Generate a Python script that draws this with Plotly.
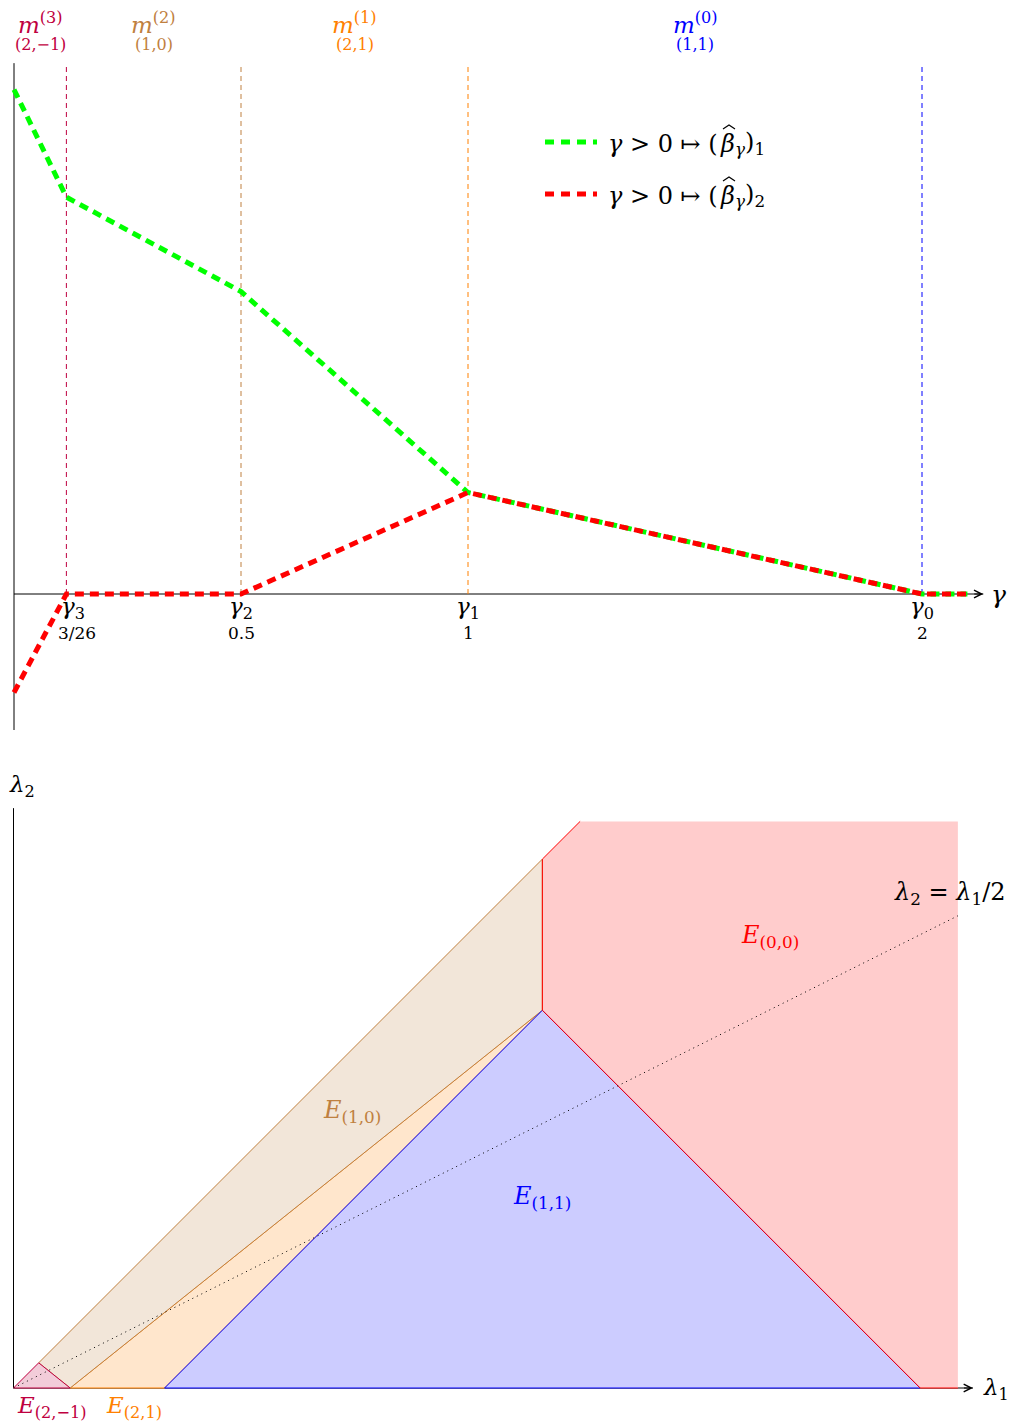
import plotly.graph_objects as go

# ---------------- data: top panel (regularisation path) ----------------
gamma_breaks = [0.0, 3/26, 0.5, 1.0, 2.0, 2.1]
beta1 = [4.97, 3.91, 2.98, 1.0, 0.0, 0.0]
beta2 = [-0.97, 0.0, 0.0, 1.0, 0.0, 0.0]
knot_gammas = [3/26, 0.5, 1.0, 2.0]
knot_names = ["3", "2", "1", "0"]
knot_values = ["3/26", "0.5", "1", "2"]
knot_colors = ["#BF0040", "#BF8040", "#FF8000", "#0000FF"]
model_names = ["(3)", "(2)", "(1)", "(0)"]
model_supports = ["(2,−1)", "(1,0)", "(2,1)", "(1,1)"]
legend_prefix = "<i>γ</i> > 0 ↦ ("
legend_core = "<i>β</i>"
legend_suffixes = ["<sub><i>γ</i></sub>)<sub>1</sub>", "<sub><i>γ</i></sub>)<sub>2</sub>"]

# ---------------- data: bottom panel (regions) ----------------
E21m_x = [0, 2/3, 1.5]
E21m_y = [0, 2/3, 0]
E10_x = [2/3, 14, 14, 1.5]
E10_y = [2/3, 14, 10, 0]
E21_x = [1.5, 14, 4]
E21_y = [0, 10, 0]
E11_x = [4, 14, 24]
E11_y = [0, 10, 0]
E00_x = [14, 15, 25, 25, 24, 14]
E00_y = [14, 15, 15, 0, 0, 10]
E00_border_x = [15, 14, 14, 24, 25]
E00_border_y = [15, 14, 10, 0, 0]
ratio_line_x = [0, 25]
ratio_line_y = [0, 12.5]

W, H = 1011, 1423
split = 1 - 745 / H
FONT = "DejaVu Serif"

fig = go.Figure()

# top panel traces
fig.add_trace(go.Scatter(x=gamma_breaks, y=beta1, mode="lines", xaxis="x", yaxis="y",
                         line=dict(color="#00FF00", width=5, dash="9px,6px"),
                         showlegend=False, hoverinfo="skip"))
fig.add_trace(go.Scatter(x=gamma_breaks, y=beta2, mode="lines", xaxis="x", yaxis="y",
                         line=dict(color="#FF0000", width=5, dash="9px,6px"),
                         showlegend=False, hoverinfo="skip"))

# bottom panel regions
def region(xs, ys, fill, line, width=1.0):
    fig.add_trace(go.Scatter(x=xs + [xs[0]], y=ys + [ys[0]], mode="lines", fill="toself",
                             fillcolor=fill, xaxis="x2", yaxis="y2",
                             line=dict(color=line, width=width),
                             showlegend=False, hoverinfo="skip"))

region(E00_x, E00_y, "rgb(255,204,204)", "rgba(0,0,0,0)", 0)
region(E21_x, E21_y, "rgb(255,230,204)", "#FF8000")
region(E10_x, E10_y, "rgb(242,230,217)", "#BF8040")
region(E11_x, E11_y, "rgb(204,204,255)", "#0000FF")
region(E21m_x, E21m_y, "rgb(242,204,217)", "#BF0040")
fig.add_trace(go.Scatter(x=E00_border_x, y=E00_border_y, mode="lines", xaxis="x2", yaxis="y2",
                         line=dict(color="#FF0000", width=1), showlegend=False, hoverinfo="skip"))
fig.add_trace(go.Scatter(x=ratio_line_x, y=ratio_line_y, mode="lines", xaxis="x2", yaxis="y2",
                         line=dict(color="black", width=1, dash="1px,4px"),
                         showlegend=False, hoverinfo="skip"))

# axes (drawn as shapes)
shapes = []
g_end, b_lo, b_hi = 2.135, -1.34, 5.23
shapes.append(dict(type="line", xref="x", yref="y", x0=0, x1=g_end, y0=0, y1=0,
                   line=dict(color="black", width=1), layer="below"))
shapes.append(dict(type="line", xref="x", yref="y", x0=0, x1=0, y0=b_lo, y1=b_hi,
                   line=dict(color="black", width=1), layer="below"))
for g, c in zip(knot_gammas, knot_colors):
    shapes.append(dict(type="line", xref="x", yref="y", x0=g, x1=g, y0=0, y1=5.2,
                       line=dict(color=c, width=1, dash="5px,4px"), layer="below"))
l1_end, l2_end = 25.4, 15.35
shapes.append(dict(type="line", xref="x2", yref="y2", x0=0, x1=l1_end, y0=0, y1=0,
                   line=dict(color="black", width=1), layer="below"))
shapes.append(dict(type="line", xref="x2", yref="y2", x0=0, x1=0, y0=0, y1=l2_end,
                   line=dict(color="black", width=1), layer="below"))

# legend (manual)
leg_colors = ["#00FF00", "#FF0000"]
leg_py = [142, 194]
for c, py in zip(leg_colors, leg_py):
    shapes.append(dict(type="line", xref="paper", yref="paper",
                       x0=545 / W, x1=597 / W, y0=1 - py / H, y1=1 - py / H,
                       line=dict(color=c, width=5, dash="9px,7px")))

ann = []
def arrow(x, y, xr, yr, ax, ay):
    ann.append(dict(x=x, y=y, xref=xr, yref=yr, ax=ax, ay=ay, showarrow=True, text=" ",
                    arrowhead=5, arrowsize=1.5, arrowwidth=1, arrowcolor="black"))
arrow(g_end, 0, "x", "y", -12, 0)
arrow(0, b_hi, "x", "y", 0, 12)
arrow(l1_end, 0, "x2", "y2", -12, 0)
arrow(0, l2_end, "x2", "y2", 0, 12)

def txt(x, y, s, xr="x", yr="y", size=24, color="black", xanchor="center", yanchor="middle"):
    ann.append(dict(x=x, y=y, xref=xr, yref=yr, text=s, showarrow=False,
                    font=dict(family=FONT, size=size, color=color),
                    xanchor=xanchor, yanchor=yanchor, borderpad=0))

# knot tick labels
for g, n, v in zip(knot_gammas, knot_names, knot_values):
    dx = 0.015 if n == "3" else 0.0
    txt(g + dx, -0.14, f"<i>γ</i><sub>{n}</sub>", size=23)
    txt(g + dx * 1.5, -0.38, v, size=17)
txt((998 - 14) / 454, 0, "<i>γ</i>", size=25)

# model labels at interval midpoints
lefts = [0.0] + knot_gammas[:-1]
for lo, hi, nm, sp, c in zip(lefts, knot_gammas, model_names, model_supports, knot_colors):
    mid = (lo + hi) / 2
    txt(mid, 5.63, f"<i>m</i><sup>{nm}</sup>", size=23, color=c)
    txt(mid, 5.41, sp, size=16, color=c)

# legend texts (split so that a hat can be drawn over beta)
split_px = 719
beta_w = 14
for suf, py in zip(legend_suffixes, leg_py):
    yy = 1 - (py + 2) / H
    txt(split_px / W, yy, legend_prefix, xr="paper", yr="paper", size=24, xanchor="right")
    txt(split_px / W, yy, legend_core, xr="paper", yr="paper", size=24, xanchor="left")
    txt((split_px + beta_w + 1) / W, yy, suf, xr="paper", yr="paper", size=24, xanchor="left")
    hx = split_px + beta_w / 2 + 3
    hy = py - 17
    shapes.append(dict(type="path", xref="paper", yref="paper",
                       path=(f"M {(hx - 6) / W},{1 - (hy + 4) / H} "
                             f"L {hx / W},{1 - hy / H} "
                             f"L {(hx + 6) / W},{1 - (hy + 4) / H}"),
                       line=dict(color="black", width=1.2)))

# bottom labels
txt(20.03, 11.94, "<i>E</i><sub>(0,0)</sub>", xr="x2", yr="y2", color="#FF0000")
txt(8.96, 7.31, "<i>E</i><sub>(1,0)</sub>", xr="x2", yr="y2", color="#BF8040")
txt(13.99, 5.03, "<i>E</i><sub>(1,1)</sub>", xr="x2", yr="y2", color="#0000FF")
txt(1.0, -0.5, "<i>E</i><sub>(2,−1)</sub>", xr="x2", yr="y2", color="#BF0040", size=23)
txt(3.2, -0.5, "<i>E</i><sub>(2,1)</sub>", xr="x2", yr="y2", color="#FF8000", size=23)
txt(24.79, 13.1, "<i>λ</i><sub>2</sub> = <i>λ</i><sub>1</sub>/2", xr="x2", yr="y2", size=24)
txt(0.22, 15.94, "<i>λ</i><sub>2</sub>", xr="x2", yr="y2", size=23)
txt(25.65, -0.02, "<i>λ</i><sub>1</sub>", xr="x2", yr="y2", size=23, xanchor="left")

fig.update_layout(
    width=W, height=H, margin=dict(l=0, r=0, t=0, b=0),
    paper_bgcolor="white", plot_bgcolor="rgba(0,0,0,0)",
    xaxis=dict(domain=[0, 1], range=[-14 / 454, 997 / 454], visible=False, anchor="y"),
    yaxis=dict(domain=[split, 1], range=[(594 - 745) / 101.5, 594 / 101.5], visible=False, anchor="x"),
    xaxis2=dict(domain=[0, 1], range=[-13.5 / 37.775, 997.5 / 37.775], visible=False, anchor="y2"),
    yaxis2=dict(domain=[0, split], range=[(1388 - 1423) / 37.775, (1388 - 745) / 37.775], visible=False, anchor="x2"),
    shapes=shapes, annotations=ann, showlegend=False,
)

fig.write_html("out.html", config={"displayModeBar": False},
               post_script="document.body.style.margin='0';document.body.style.overflow='hidden';")
